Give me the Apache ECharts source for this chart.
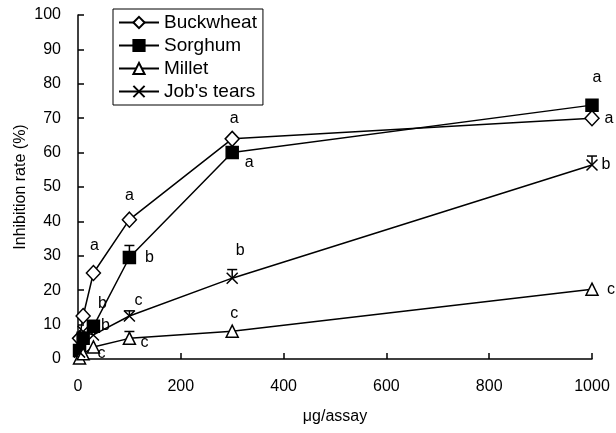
<!DOCTYPE html>
<html>
<head>
<meta charset="utf-8">
<script src="https://cdn.jsdelivr.net/npm/echarts@6/dist/echarts.min.js"></script>
<style>
html,body{margin:0;padding:0;background:#fff;}
#chart{width:616px;height:433px;}
</style>
</head>
<body>
<div id="chart"></div>
<script>
// ---- data ----
const doses = [3, 10, 30, 100, 300, 1000];
const seriesNames = ['Buckwheat', 'Sorghum', 'Millet', "Job's tears"];
const buckwheat = [6, 12.5, 25, 40.5, 64, 70];
const sorghum = [2.5, 6, 9.5, 29.5, 60, 73.8];
const millet = [0.3, 1.5, 3.5, 6, 8.1, 20.3];
const jobsTears = [2, 8, 7, 12.5, 23.5, 56.4];
const buckwheatErrTop = [null, null, null, null, null, null];
const sorghumErrTop = [null, null, null, 33, null, null];
const milletErrTop = [null, null, null, 8, null, null];
const jobsTearsErrTop = [null, null, null, 14, 26, 59];
const buckwheatLetters = [null, null, 'a', 'a', 'a', 'a'];
const sorghumLetters = [null, null, 'b', 'b', 'a', 'a'];
const milletLetters = [null, null, 'c', 'c', 'c', 'c'];
const jobsTearsLetters = [null, null, 'b', 'c', 'b', 'b'];
const xTicks = [0, 200, 400, 600, 800, 1000];
const yTicks = [0, 10, 20, 30, 40, 50, 60, 70, 80, 90, 100];

// ---- styling (kept out of data) ----
const FONT = "'Liberation Sans', Arial, sans-serif";
const letterOffsets = {
  'Buckwheat':   [null, null, [1, -27], [0, -24], [2, -20], [17, 0]],
  'Sorghum':     [null, null, [9, -23], [20, 0], [17, 10], [5, -28]],
  'Millet':      [null, null, [8, 7], [15, 4], [2, -18], [19, 0]],
  "Job's tears": [null, null, [12, -9], [9, -15], [8, -28], [14, 0]]
};
const symbols = {
  'Buckwheat': {symbol: 'diamond', size: [14, 15], fill: '#fff'},
  'Sorghum': {symbol: 'rect', size: 12, fill: '#000'},
  'Millet': {symbol: 'triangle', size: 12, fill: '#fff'},
  "Job's tears": {symbol: 'path://M0,0L10,10M10,0L0,10', size: 11, fill: '#fff'}
};

const values = [buckwheat, sorghum, millet, jobsTears];
const errs = [buckwheatErrTop, sorghumErrTop, milletErrTop, jobsTearsErrTop];
const letters = [buckwheatLetters, sorghumLetters, milletLetters, jobsTearsLetters];

const series = [];
seriesNames.forEach((name, i) => {
  const errData = [];
  doses.forEach((d, k) => { if (errs[i][k] != null) errData.push([d, values[i][k], errs[i][k]]); });
  if (errData.length) {
    series.push({
      type: 'custom', silent: true, z: 1,
      renderItem: function (params, api) {
        const p = api.coord([api.value(0), api.value(1)]);
        const t = api.coord([api.value(0), api.value(2)]);
        return {
          type: 'group',
          children: [
            {type: 'line', shape: {x1: p[0], y1: p[1], x2: t[0], y2: t[1]}, style: {stroke: '#000', lineWidth: 1.5}},
            {type: 'line', shape: {x1: t[0] - 5, y1: t[1], x2: t[0] + 5, y2: t[1]}, style: {stroke: '#000', lineWidth: 1.5}}
          ]
        };
      },
      data: errData
    });
  }
  const s = symbols[name];
  series.push({
    name: name,
    type: 'line',
    z: 3,
    symbol: s.symbol,
    symbolSize: s.size,
    showAllSymbol: true,
    lineStyle: {color: '#000', width: 1.5},
    itemStyle: {color: s.fill, borderColor: '#000', borderWidth: 1.5},
    emphasis: {disabled: true},
    data: doses.map((d, k) => [d, values[i][k]])
  });
  const lData = [];
  doses.forEach((d, k) => {
    if (letters[i][k]) {
      lData.push({
        value: [d, values[i][k], letters[i][k]],
        label: {offset: letterOffsets[name][k]}
      });
    }
  });
  series.push({
    type: 'scatter', silent: true, z: 4,
    symbolSize: 0,
    itemStyle: {opacity: 1, color: '#000'},
    label: {
      show: true, position: 'inside',
      formatter: p => p.value[2],
      color: '#000', fontSize: 16, fontFamily: FONT,
      textBorderWidth: 0, opacity: 1
    },
    data: lData
  });
});

const chart = echarts.init(document.getElementById('chart'), null, {renderer: 'canvas'});
chart.setOption({
  animation: false,
  backgroundColor: '#fff',
  textStyle: {fontFamily: FONT, color: '#000'},
  grid: {left: 78, right: 24, top: 15, bottom: 74},
  legend: {
    data: seriesNames,
    orient: 'vertical',
    left: 113, top: 9,
    padding: [4, 6, 4, 5],
    itemGap: 4,
    itemWidth: 40,
    itemHeight: 14,
    borderColor: '#000',
    borderWidth: 1,
    selectedMode: false,
    textStyle: {fontSize: 19, color: '#000', fontFamily: FONT}
  },
  xAxis: {
    type: 'value',
    min: xTicks[0], max: xTicks[xTicks.length - 1], interval: xTicks[1] - xTicks[0],
    name: 'μg/assay', nameLocation: 'middle', nameGap: 50, nameMoveOverlap: false,
    nameTextStyle: {fontSize: 16, color: '#000', fontFamily: FONT},
    axisLine: {show: true, lineStyle: {color: '#000', width: 1.5}},
    axisTick: {show: true, inside: true, length: 6, lineStyle: {color: '#000', width: 1.5}},
    axisLabel: {fontSize: 16, color: '#000', margin: 20, fontFamily: FONT, formatter: v => String(v)},
    splitLine: {show: false}
  },
  yAxis: {
    type: 'value',
    min: yTicks[0], max: yTicks[yTicks.length - 1], interval: yTicks[1] - yTicks[0],
    name: 'Inhibition rate (%)', nameLocation: 'middle', nameGap: 49, nameRotate: 90, nameMoveOverlap: false,
    nameTextStyle: {fontSize: 16, color: '#000', fontFamily: FONT},
    axisLine: {show: true, lineStyle: {color: '#000', width: 1.5}},
    axisTick: {show: true, inside: true, length: 6, lineStyle: {color: '#000', width: 1.5}},
    axisLabel: {fontSize: 16, color: '#000', margin: 17, fontFamily: FONT},
    splitLine: {show: false}
  },
  series: series
});
</script>
</body>
</html>
